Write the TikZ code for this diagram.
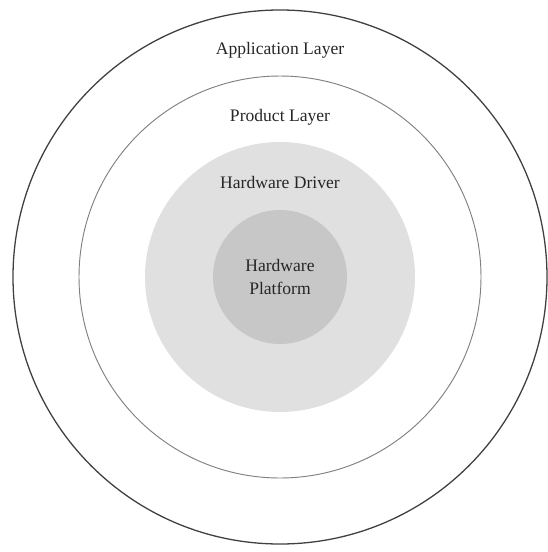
\documentclass[tikz,border=0pt]{standalone}
\usepackage{fontspec}
\setmainfont{Liberation Serif}
\tikzset{
  ring/.style    = {draw=black!75, line width=1.1pt},
  innerring/.style = {draw=black!50, line width=0.8pt},
  drvdisc/.style = {fill=black!12},
  hwdisc/.style  = {fill=black!22},
  lbl/.style     = {font=\fontsize{15}{19}\selectfont, text=black!85, align=center, inner sep=0pt}
}
\begin{document}
\begin{tikzpicture}[x=0.03cm, y=-0.03cm]
    \useasboundingbox (0,0) rectangle (547,552);
    \coordinate (o) at (280,277);
    % layers, outside in
    \draw[ring] (o) circle[radius=267];
    \draw[innerring] (o) circle[radius=201];
    \fill[drvdisc] (o) circle[radius=135];
    \fill[hwdisc] (o) circle[radius=67];
    % labels
    \node[lbl] (app) at (280,50) {Application Layer};
    \node[lbl] (prod) at (280,117) {Product Layer};
    \node[lbl] (drv) at (280,182) {Hardware Driver};
    \node[lbl] (hw) at (o) {Hardware\\Platform};
\end{tikzpicture}
\end{document}
